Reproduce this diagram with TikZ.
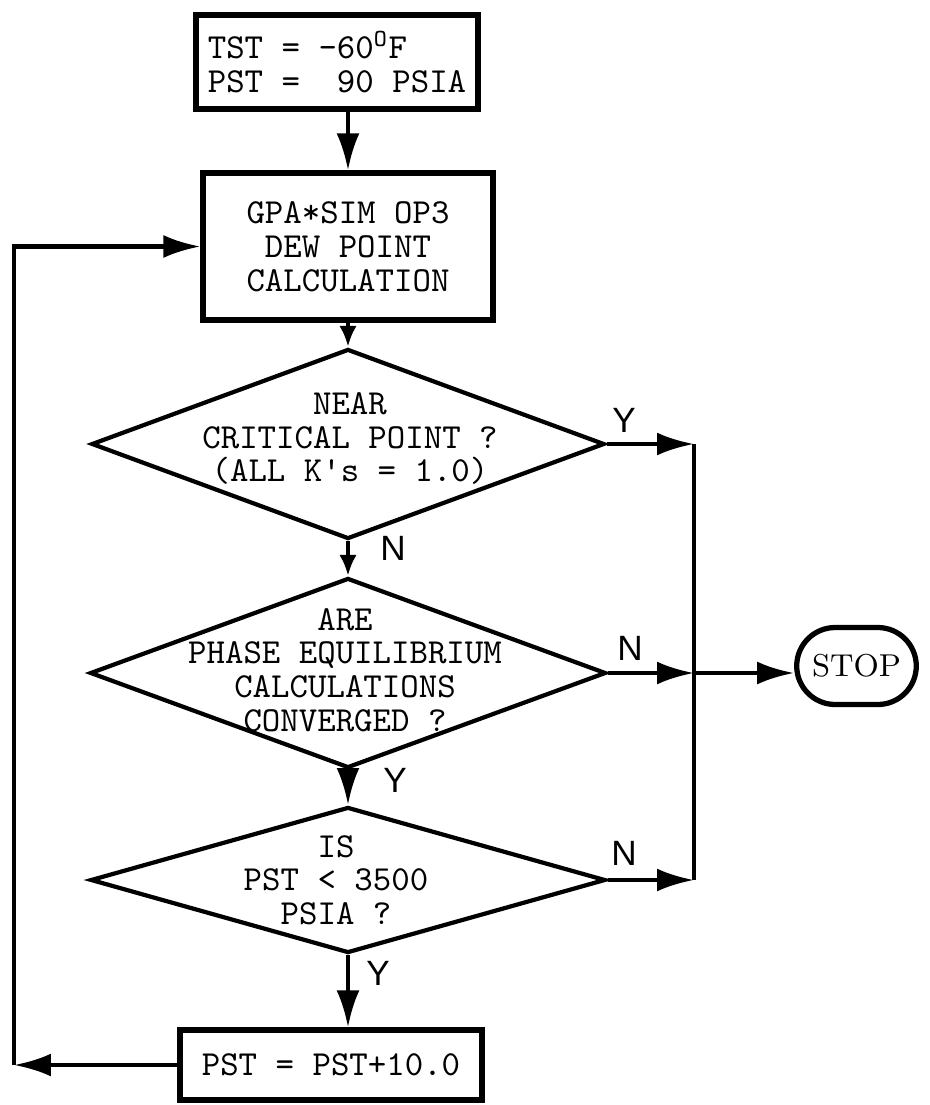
\documentclass[tikz,border=0pt]{standalone}
\usepackage{fontspec}
\setsansfont{Liberation Sans}
\usetikzlibrary{arrows.meta,positioning,shapes.geometric,shapes.misc}

\tikzset{
	box/.style={draw, rectangle, line width=1.5pt, inner sep=2pt, font=\fontsize{10}{9.6}\selectfont\ttfamily},
	dec/.style={draw, diamond, line width=1.2pt, inner sep=0pt},
	dectext/.style={align=center, inner sep=0pt, font=\fontsize{10}{9.6}\selectfont\ttfamily},
	stopbox/.style={draw, rounded rectangle, line width=1.5pt, minimum width=1.43cm, minimum height=0.77cm, font=\fontsize{9}{10}\selectfont\rmfamily},
	yn/.style={font=\fontsize{10}{11}\selectfont\sffamily},
	arr/.style={line width=1.2pt, -{Latex[length=10.5pt,width=6.5pt]}},
	sarr/.style={line width=1.2pt, -{Latex[length=6pt,width=5pt]}},
	line/.style={line width=1.2pt}
}

\begin{document}
\begin{tikzpicture}[x=1cm, y=-1cm]
	\useasboundingbox (0,0) rectangle (9.3,11.05); % Rand wie Vorlage
	
	% Kaesten
	\node[box, minimum width=2.82cm, minimum height=0.94cm, align=left] (tst) at (3.37,0.62) {TST = -60\textsuperscript{O}F\\PST = \phantom{-}90 PSIA};
	\node[box, minimum width=2.90cm, minimum height=1.47cm, align=center] (sim) at (3.48,2.465) {GPA*SIM OP3\\DEW POINT\\CALCULATION};
	\node[box, minimum width=3.02cm, minimum height=0.70cm] (inc) at (3.31,10.65) {PST = PST+10.0};
	\node[stopbox] (stop) at (8.565,6.66) {STOP};
	
	% Rauten
	\node[dec, minimum width=5.13cm, minimum height=1.90cm] (crit) at (3.48,4.44) {};
	\node[dectext] (crittext) at (3.50,4.385) {NEAR\\CRITICAL POINT ?\\(ALL K's = 1.0)};
	
	\node[dec, minimum width=5.16cm, minimum height=1.90cm] (conv) at (3.48,6.73) {};
	\node[dectext] (convtext) at (3.45,6.70) {ARE\\PHASE EQUILIBRIUM\\CALCULATIONS\\CONVERGED ?};
	
	\node[dec, minimum width=5.15cm, minimum height=1.46cm] (pst) at (3.48,8.80) {};
	\node[dectext] (psttext) at (3.36,8.80) {IS\\PST < 3500\\PSIA ?};
	
	% Hilfspunkte fuer die Seitenlinien
	\coordinate (rx) at (6.94,0);
	\coordinate (lx) at (0.14,0);
	
	% Pfeile
	\draw[arr] (tst.south -| sim.north) -- (sim.north);
	\draw[sarr] (sim.south) -- (crit.north);
	\draw[sarr] (crit.south) -- (conv.north);
	\draw[arr] (conv.south) -- (pst.north);
	\draw[arr] (pst.south) -- (pst.south |- inc.north);
	
	\draw[arr] (crit.east) -- (crit.east -| rx);
	\draw[arr] (conv.east) -- (conv.east -| rx);
	\draw[arr] (pst.east) -- (pst.east -| rx);
	\draw[line] (crit.east -| rx) -- (pst.east -| rx);
	\draw[arr] (conv.east -| rx) -- (conv.east -| stop.west);
	
	\draw[arr] (inc.west) -- (inc.west -| lx); % Schleife zurueck
	\draw[arr] (inc.west -| lx) |- (sim.west);
	
	% Ja / Nein
	\node[yn] (y1) at (6.24,4.20) {Y};
	\node[yn] (n1) at (3.93,5.48) {N};
	\node[yn] (n2) at (6.30,6.48) {N};
	\node[yn] (y2) at (3.95,7.80) {Y};
	\node[yn] (n3) at (6.24,8.53) {N};
	\node[yn] (y3) at (3.78,9.73) {Y};
\end{tikzpicture}
\end{document}
